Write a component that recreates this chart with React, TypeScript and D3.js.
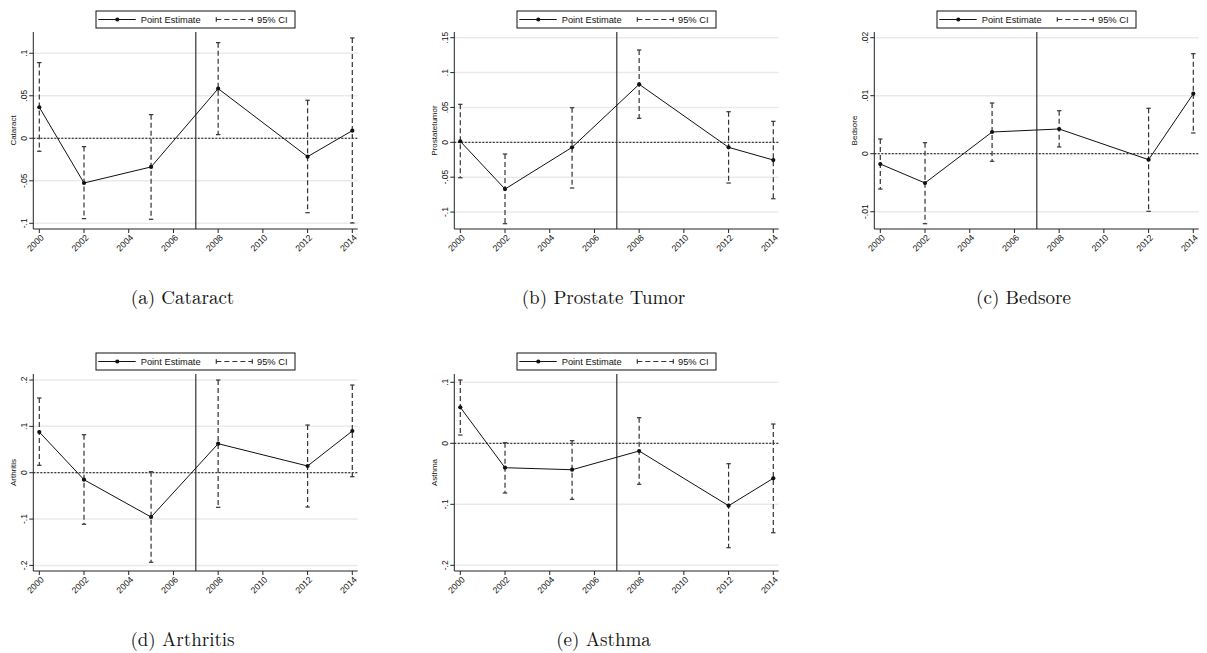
import * as d3 from 'd3';

const W = 1207;
const H = 653;

const years = [2000, 2002, 2005, 2008, 2012, 2014];
const xTicks = [2000, 2002, 2004, 2006, 2008, 2010, 2012, 2014];
const policyYear = 2007;

// Cataract
const cataractEst = [0.0365, -0.0526, -0.0337, 0.0584, -0.0216, 0.009];
const cataractLo = [-0.0153, -0.0945, -0.0953, 0.0043, -0.0875, -0.0996];
const cataractHi = [0.089, -0.0098, 0.0278, 0.1125, 0.0447, 0.118];
const cataractTicks = [-0.1, -0.05, 0, 0.05, 0.1];
const cataractLabels = ['-.1', '-.05', '0', '.05', '.1'];

// Prostate tumor
const prostateEst = [0.0014, -0.067, -0.0072, 0.0832, -0.0072, -0.0254];
const prostateLo = [-0.0508, -0.1167, -0.0655, 0.0344, -0.0584, -0.0809];
const prostateHi = [0.0545, -0.0168, 0.0496, 0.1324, 0.0439, 0.0301];
const prostateTicks = [-0.1, -0.05, 0, 0.05, 0.1, 0.15];
const prostateLabels = ['-.1', '-.05', '0', '.05', '.1', '.15'];

// Bedsore
const bedsoreEst = [-0.00178, -0.00505, 0.00374, 0.00426, -0.00103, 0.01034];
const bedsoreLo = [-0.00609, -0.01207, -0.00131, 0.00116, -0.00993, 0.00357];
const bedsoreHi = [0.00253, 0.0019, 0.00874, 0.00741, 0.00783, 0.01724];
const bedsoreTicks = [-0.01, 0, 0.01, 0.02];
const bedsoreLabels = ['-.01', '0', '.01', '.02'];

// Arthritis
const arthritisEst = [0.0878, -0.0151, -0.0956, 0.0626, 0.0145, 0.09];
const arthritisLo = [0.016, -0.1113, -0.1933, -0.0747, -0.074, -0.0086];
const arthritisHi = [0.1612, 0.082, 0.0022, 0.2, 0.1029, 0.1892];
const arthritisTicks = [-0.2, -0.1, 0, 0.1, 0.2];
const arthritisLabels = ['-.2', '-.1', '0', '.1', '.2'];

// Asthma
const asthmaEst = [0.059, -0.04, -0.0433, -0.0126, -0.1023, -0.0574];
const asthmaLo = [0.0136, -0.0815, -0.0918, -0.0672, -0.1711, -0.1466];
const asthmaHi = [0.1038, 0.001, 0.0043, 0.042, -0.0334, 0.0316];
const asthmaTicks = [-0.2, -0.1, 0, 0.1];
const asthmaLabels = ['-.2', '-.1', '0', '.1'];

const panels = [
  { title: 'Cataract', caption: '(a) Cataract', col: 0, row: 0, est: cataractEst, lo: cataractLo, hi: cataractHi, ticks: cataractTicks, labels: cataractLabels, domain: [-0.1067, 0.125] },
  { title: 'Prostatetumor', caption: '(b) Prostate Tumor', col: 1, row: 0, est: prostateEst, lo: prostateLo, hi: prostateHi, ticks: prostateTicks, labels: prostateLabels, domain: [-0.1243, 0.1582] },
  { title: 'Bedsore', caption: '(c) Bedsore', col: 2, row: 0, est: bedsoreEst, lo: bedsoreLo, hi: bedsoreHi, ticks: bedsoreTicks, labels: bedsoreLabels, domain: [-0.01298, 0.02098] },
  { title: 'Arthritis', caption: '(d) Arthritis', col: 0, row: 1, est: arthritisEst, lo: arthritisLo, hi: arthritisHi, ticks: arthritisTicks, labels: arthritisLabels, domain: [-0.2121, 0.213] },
  { title: 'Asthma', caption: '(e) Asthma', col: 1, row: 1, est: asthmaEst, lo: asthmaLo, hi: asthmaHi, ticks: asthmaTicks, labels: asthmaLabels, domain: [-0.2093, 0.1136] },
];

const colX = [0, 421, 841];
const rowY = [0, 342];
const sans = '"Liberation Sans", Arial, Helvetica, sans-serif';
const serif = '"Latin Modern Roman", "CMU Serif", "Liberation Serif", serif';

function Panel({ p }) {
  const ox = colX[p.col];
  const oy = rowY[p.row];
  const left = ox + 33.3;
  const right = ox + 357.7;
  const top = oy + 32;
  const bottom = oy + 229;

  const x = d3.scaleLinear().domain([2000, 2014]).range([left + 6, right - 5.4]);
  const y = d3.scaleLinear().domain(p.domain).range([bottom, top]);

  const line = d3
    .line()
    .x((d) => x(d[0]))
    .y((d) => y(d[1]));
  const pts = years.map((yr, i) => [yr, p.est[i]]);

  const legX = (left + right) / 2 - 99.5;
  const legY = oy + 11;
  const legMid = legY + 8.5;

  return (
    <g>
      {/* gridlines */}
      {p.ticks.map((t) => (
        <line key={'g' + t} x1={left} x2={right} y1={y(t)} y2={y(t)} stroke="#eaeaea" strokeWidth={1.5} />
      ))}
      {/* zero reference */}
      <line x1={left} x2={right} y1={y(0)} y2={y(0)} stroke="#111" strokeWidth={1} strokeDasharray="2,1.5" />
      {/* policy year */}
      <line x1={x(policyYear)} x2={x(policyYear)} y1={top} y2={bottom} stroke="#333" strokeWidth={1.2} />

      {/* confidence intervals */}
      {years.map((yr, i) => (
        <g key={'ci' + yr} stroke="#333" strokeWidth={1.2}>
          <line x1={x(yr)} x2={x(yr)} y1={y(p.hi[i])} y2={y(p.lo[i])} strokeDasharray="5,3" />
          <line x1={x(yr) - 2.2} x2={x(yr) + 2.2} y1={y(p.hi[i])} y2={y(p.hi[i])} />
          <line x1={x(yr) - 2.2} x2={x(yr) + 2.2} y1={y(p.lo[i])} y2={y(p.lo[i])} />
        </g>
      ))}

      {/* estimate */}
      <path d={line(pts)} fill="none" stroke="#111" strokeWidth={1} />
      {pts.map((d) => (
        <circle key={'c' + d[0]} cx={x(d[0])} cy={y(d[1])} r={2.1} fill="#111" />
      ))}

      {/* axes */}
      <line x1={left} x2={left} y1={top} y2={bottom} stroke="#222" strokeWidth={1} />
      <line x1={left} x2={right} y1={bottom} y2={bottom} stroke="#222" strokeWidth={1} />
      {p.ticks.map((t, i) => (
        <g key={'yt' + t}>
          <line x1={left - 4} x2={left} y1={y(t)} y2={y(t)} stroke="#222" />
          <text
            transform={`translate(${left - 6.5},${y(t)}) rotate(-90)`}
            textAnchor="middle"
            fontFamily={sans}
            fontSize={8.5}
            fill="#111"
          >
            {p.labels[i]}
          </text>
        </g>
      ))}
      <text
        transform={`translate(${left - 17.5},${(top + bottom) / 2}) rotate(-90)`}
        textAnchor="middle"
        fontFamily={sans}
        fontSize={8}
        fill="#111"
      >
        {p.title}
      </text>
      {xTicks.map((t) => (
        <g key={'xt' + t}>
          <line x1={x(t)} x2={x(t)} y1={bottom} y2={bottom + 4} stroke="#222" />
          <text
            transform={`translate(${x(t) + 3},${bottom + 7}) rotate(-45)`}
            textAnchor="end"
            dy="0.35em"
            fontFamily={sans}
            fontSize={8.8}
            fill="#111"
          >
            {t}
          </text>
        </g>
      ))}

      {/* legend */}
      <rect x={legX} y={legY} width={199} height={17} fill="#fff" stroke="#111" strokeWidth={1} />
      <line x1={legX + 2.3} x2={legX + 39.7} y1={legMid} y2={legMid} stroke="#111" strokeWidth={1} />
      <circle cx={legX + 21.3} cy={legMid} r={2.1} fill="#111" />
      <text x={legX + 44.7} y={legMid} dy="0.35em" fontFamily={sans} fontSize={9.3} fill="#111">
        Point Estimate
      </text>
      <g stroke="#333" strokeWidth={1.2}>
        <line x1={legX + 120.3} x2={legX + 156.3} y1={legMid} y2={legMid} strokeDasharray="5,3" />
        <line x1={legX + 120.3} x2={legX + 120.3} y1={legMid - 2.2} y2={legMid + 2.2} />
        <line x1={legX + 156.3} x2={legX + 156.3} y1={legMid - 2.2} y2={legMid + 2.2} />
      </g>
      <text x={legX + 161} y={legMid} dy="0.35em" fontFamily={sans} fontSize={9.3} fill="#111">
        95% CI
      </text>

      {/* caption */}
      <text x={(left + right) / 2 - 13} y={oy + 304} textAnchor="middle" fontFamily={serif} fontSize={19} fill="#111">
        {p.caption}
      </text>
    </g>
  );
}

export default function App() {
  return (
    <div style={{ position: 'absolute', left: 0, top: 0 }}>
      <svg width={W} height={H} style={{ display: 'block', background: '#fff' }}>
        {panels.map((p) => (
          <Panel key={p.title} p={p} />
        ))}
      </svg>
    </div>
  );
}
